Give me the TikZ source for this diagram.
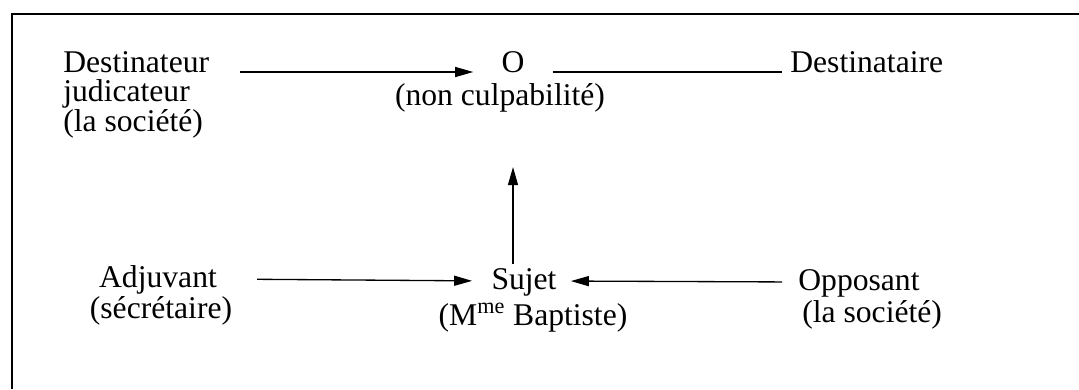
\documentclass[tikz,border=0pt]{standalone}
\usepackage{fontspec}
\setmainfont{Liberation Serif}
\usetikzlibrary{arrows.meta, positioning}

\begin{document}
\begin{tikzpicture}[x=0.02cm, y=-0.02cm, >={Triangle[length=0.36cm, width=0.2cm]},
        word/.style={inner sep=0pt, font=\fontsize{18}{16}\selectfont},
        link/.style={line width=0.75pt}]
        \useasboundingbox (0,0) rectangle (1079,389);
        \draw[line width=1.1pt] (12,389) -- (12,14) -- (1079,14);

        % upper row
        \node[word, anchor=base west] (dest) at (63,72) {Destinateur};
        \node[word, below=0.6cm of dest.base west, anchor=base west] (judi) {judicateur};
        \node[word, below=0.6cm of judi.base west, anchor=base west] (soc1) {(la société)};
        \node[word, anchor=base] (obj) at (513,72) {O};
        \node[word, anchor=base] (objt) at (500,105) {(non culpabilité)};
        \node[word, anchor=base west] (dsta) at (790,72) {Destinataire};

        % lower row
        \node[word, anchor=base] (adj) at (158,287) {Adjuvant};
        \node[word, anchor=base] (secr) at (161,318) {(sécrétaire)};
        \node[word, anchor=base] (suj) at (524,289) {Sujet};
        \node[word, anchor=base] (bapt) at (533,325) {(M\textsuperscript{me} Baptiste)};
        \node[word, anchor=base west] (opp) at (798,290) {Opposant};
        \node[word, anchor=base west] (soc2) at (802,322) {(la société)};

        \draw[link, ->, shorten <=0.62cm, shorten >=0.56cm] (dest.base east) -- (obj.base west);
        \draw[link, shorten <=0.56cm, shorten >=0.16cm] (obj.base east) -- (dsta.base west);
        \draw[link, ->, shorten <=0.8cm, shorten >=0.38cm] ([yshift=0.16cm]adj.base east) -- ([yshift=0.16cm]suj.base west);
        \draw[link, ->, shorten <=0.32cm, shorten >=0.28cm] ([yshift=0.16cm]opp.base west) -- ([yshift=0.16cm]suj.base east);
        \draw[link, ->, shorten <=0.08cm, shorten >=1.1cm] (suj.north -| obj) -- (objt.south -| obj);
    \end{tikzpicture}
\end{document}
